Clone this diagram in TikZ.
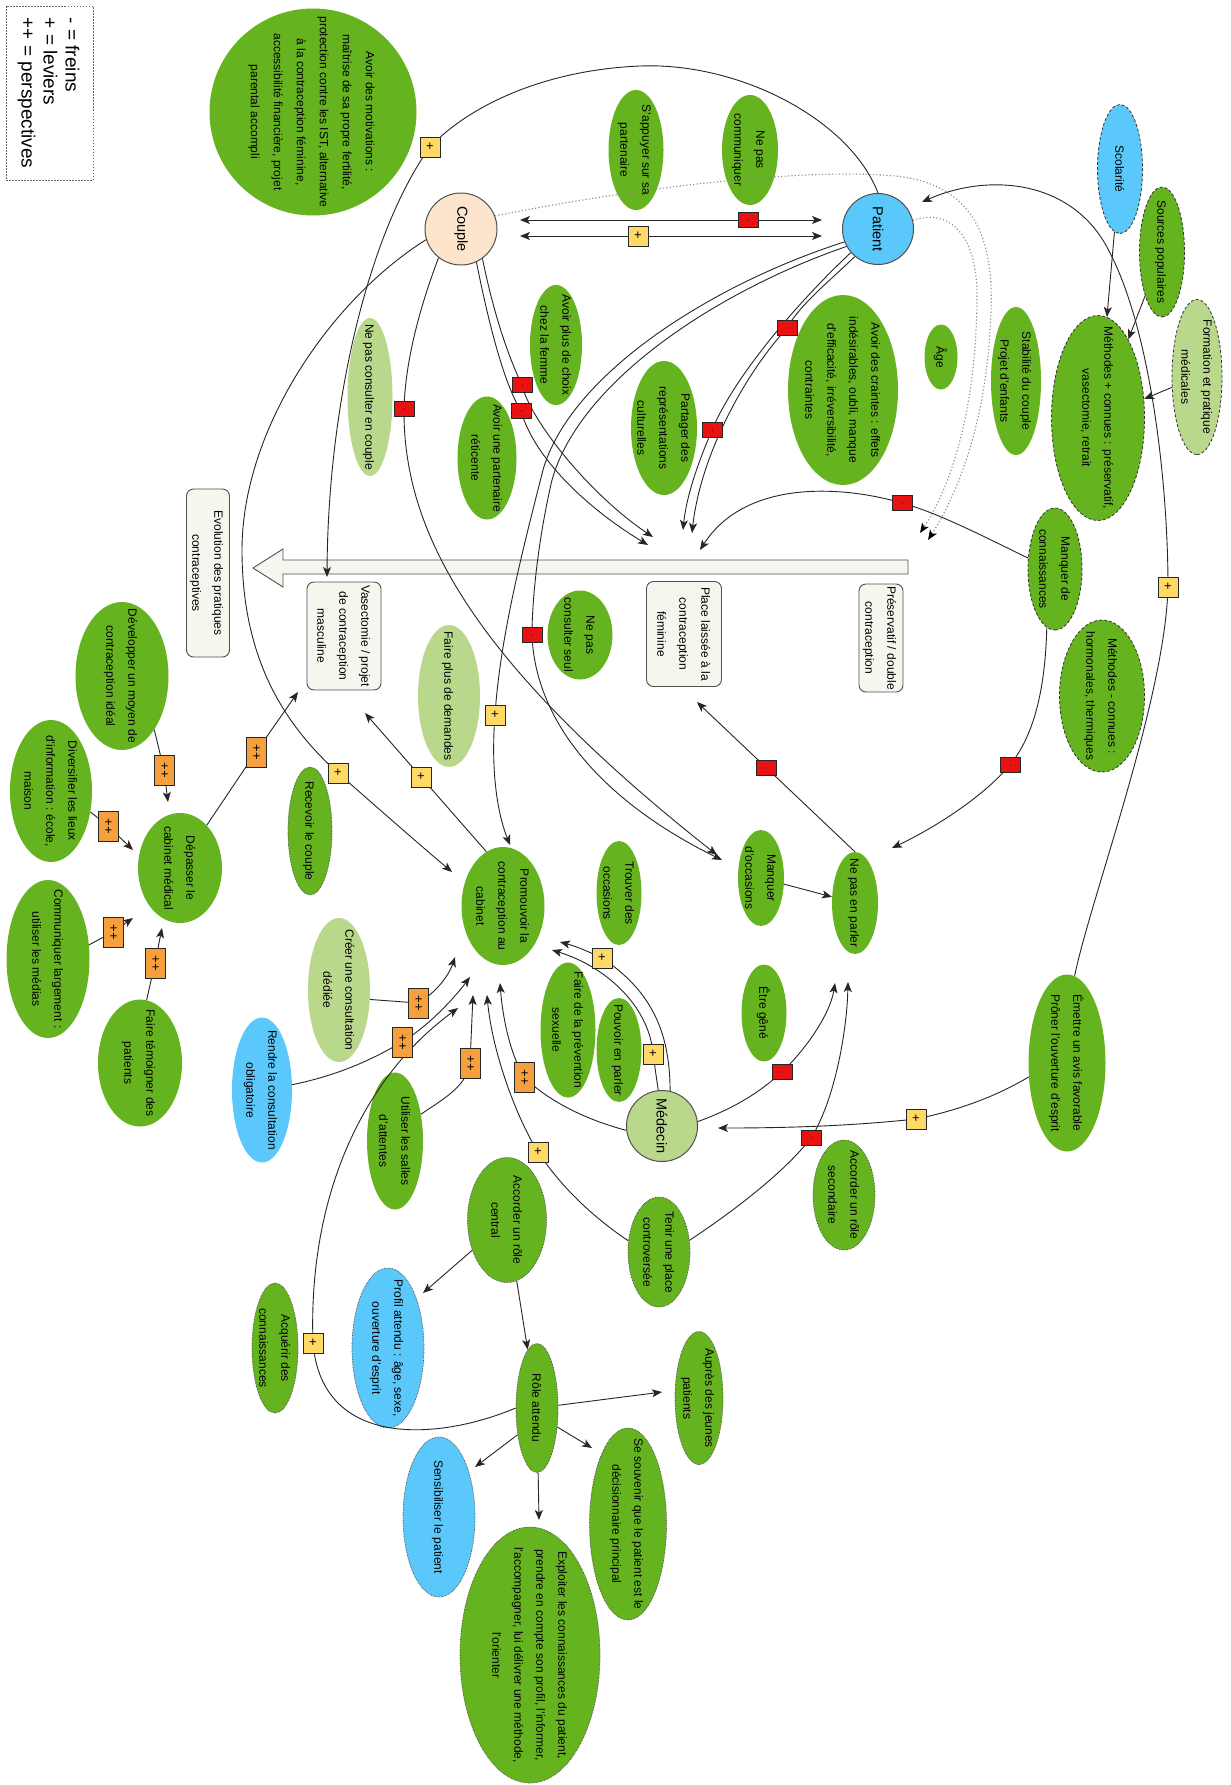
\documentclass[tikz,border=0pt]{standalone}
\usepackage{fontspec}
\setmainfont{Liberation Sans}
\usetikzlibrary{shapes.geometric,arrows.meta}
\pgfdeclarelayer{front}
\pgfsetlayers{main,front}
\definecolor{leaf}{RGB}{102,179,32}
\definecolor{pale}{RGB}{186,216,140}
\definecolor{sky}{RGB}{90,200,250}
\definecolor{peach}{RGB}{252,228,205}
\definecolor{gold}{RGB}{255,217,102}
\definecolor{amber}{RGB}{245,160,60}
\definecolor{alarm}{RGB}{232,18,18}
\definecolor{paper}{RGB}{246,245,238}
\definecolor{rim}{RGB}{80,80,80}
% centred multi-line text that does not widen its node
\newcommand{\ntxt}[1]{\smash{\makebox[0pt]{\raisebox{-0.26em}{\begin{tabular}{@{}c@{}}#1\end{tabular}}}}}

\begin{document}
\begin{tikzpicture}[x=1pt,y=-1pt,
  lbl/.style={font=\fontsize{12}{22}\selectfont},
  sz/.style 2 args={minimum height=#1, minimum width=#2},
  bub/.style={ellipse, rotate=-90, inner sep=0pt, fill=leaf, lbl},
  pale bub/.style={bub, fill=pale},
  sky bub/.style={bub, fill=sky},
  dashrim/.style={draw=black!80, dash pattern=on 3pt off 2pt, line width=0.8pt},
  dotrim/.style={draw=black!70, dash pattern=on 0.7pt off 0.9pt, line width=0.7pt},
  disc/.style={circle, rotate=-90, inner sep=0pt, draw=rim, line width=1pt, font=\fontsize{14.5}{16}\selectfont},
  card/.style={rectangle, rounded corners=7pt, rotate=-90, inner sep=0pt, fill=paper, draw=rim, line width=0.9pt, lbl},
  plusbox/.style={rectangle, draw=black!85, line width=0.8pt, fill=gold, minimum width=20pt, minimum height=20pt, inner sep=0pt, font=\fontsize{13}{13}\selectfont},
  dblbox/.style={rectangle, rotate=-90, draw=black!85, line width=0.8pt, fill=amber, minimum width=30pt, minimum height=20pt, inner sep=0pt, font=\fontsize{13}{13}\selectfont},
  minusbox/.style={rectangle, rotate=-90, draw=black!85, line width=0.7pt, fill=alarm, minimum width=15pt, minimum height=20pt, inner sep=0pt, font=\fontsize{6}{6}\selectfont},
  arr/.style={draw=black!85, line width=0.9pt, -{Stealth[length=10pt,width=8pt,inset=2.5pt]}},
  both/.style={draw=black!85, line width=0.9pt, {Stealth[length=10pt,width=8pt,inset=2.5pt]}-{Stealth[length=10pt,width=8pt,inset=2.5pt]}},
  faint/.style={draw=black!45, line width=1.1pt, dash pattern=on 1.2pt off 2.2pt, -{Stealth[length=10pt,width=8pt,inset=2.5pt,black]}},
]
\fill[white] (0,0) rectangle (1231,1785);
\useasboundingbox (0,0) rectangle (1231,1785);

% legend
\node[draw=black!60, dash pattern=on 1.5pt off 1.5pt, line width=0.6pt, minimum width=87pt, minimum height=174pt, inner sep=0pt] (legend) at (49.5,93) {};
\node[rotate=-90, align=left, inner sep=0pt, font=\fontsize{19}{22}\selectfont] (legendtext) at (48.5,93) {- = freins\\+ = leviers\\++ = perspectives};

% actors
\node[disc, fill=peach, minimum size=72pt] (couple) at (461,229) {Couple};
\node[disc, fill=sky, minimum size=71pt] (patient) at (878,229) {Patient};
\node[disc, fill=pale, minimum size=71pt] (medecin) at (662,1126) {Médecin};

% themes
\node[bub, sz={207pt}{207pt}, font=\fontsize{12}{23}\selectfont] (motiv) at (313,112) {\ntxt{Avoir des motivations :\\maîtrise de sa propre fertilité,\\protection contre les IST, alternative\\à la contraception féminine,\\accessibilité financière, projet\\parental accompli}};
\node[bub, sz={55pt}{120pt}] (appui) at (636,150) {\ntxt{S'appuyer sur sa\\partenaire}};
\node[bub, sz={56pt}{110pt}] (mutisme) at (750,150) {\ntxt{Ne pas\\communiquer}};
\node[bub, sz={52pt}{120pt}] (choix) at (556,345) {\ntxt{Avoir plus de choix\\chez la femme}};
\node[bub, sz={59pt}{123pt}] (reticente) at (487,458) {\ntxt{Avoir une partenaire\\réticente}};
\node[pale bub, sz={45pt}{158pt}] (solocouple) at (370,397) {\ntxt{Ne pas consulter en couple}};
\node[bub, sz={66pt}{134pt}] (culture) at (664,428) {\ntxt{Partager des\\représentations\\culturelles}};
\node[bub, sz={110pt}{190pt}] (craintes) at (843,390) {\ntxt{Avoir des craintes : effets\\indésirables, oubli, manque\\d'efficacité, irréversibilité,\\contraintes}};
\node[bub, sz={33pt}{65pt}] (age) at (941,357) {\ntxt{Âge}};
\node[bub, sz={50pt}{148pt}] (stabilite) at (1016,381) {\ntxt{Stabilité du couple\\Projet d'enfants}};
\node[sky bub, dashrim, sz={45pt}{129pt}] (scolarite) at (1120,169) {\ntxt{Scolarité}};
\node[bub, dashrim, sz={45pt}{130pt}] (sources) at (1162,252) {\ntxt{Sources populaires}};
\node[pale bub, dashrim, sz={50pt}{155pt}] (formation) at (1197,377) {\ntxt{Formation et pratique\\médicales}};
\node[bub, dashrim, sz={93pt}{205pt}] (methplus) at (1098,418) {\ntxt{Méthodes + connues : préservatif,\\vasectomie, retrait}};
\node[bub, dashrim, sz={54pt}{122pt}] (manqconn) at (1055,569) {\ntxt{Manquer de\\connaissances}};
\node[bub, dashrim, sz={85pt}{152pt}] (methmoins) at (1102,696) {\ntxt{Méthodes - connues :\\hormonales, thermiques}};
\node[bub, sz={65pt}{89pt}] (seul) at (580,635) {\ntxt{Ne pas\\consulter seul}};
\node[pale bub, sz={62pt}{142pt}] (demandes) at (449,696) {\ntxt{Faire plus de demandes}};
\node[bub, sz={93pt}{148pt}] (ideal) at (122,676) {\ntxt{Développer un moyen de\\contraception idéal}};
\node[bub, sz={82pt}{142pt}] (lieux) at (51,791) {\ntxt{Diversifier les lieux\\d'information : école,\\maison}};
\node[bub, sz={84pt}{110pt}] (depasser) at (180,868) {\ntxt{Dépasser le\\cabinet médical}};
\node[bub, dotrim, sz={44pt}{128pt}] (recevoir) at (310,831) {\ntxt{Recevoir le couple}};
\node[bub, sz={83pt}{158pt}] (medias) at (48,959) {\ntxt{Communiquer largement :\\utiliser les médias}};
\node[bub, sz={84pt}{127pt}] (temoins) at (140,1063) {\ntxt{Faire témoigner des\\patients}};
\node[pale bub, sz={62pt}{144pt}] (dediee) at (339,990) {\ntxt{Créer une consultation\\dédiée}};
\node[sky bub, sz={60pt}{145pt}] (obligatoire) at (262,1090) {\ntxt{Rendre la consultation\\obligatoire}};
\node[bub, sz={56pt}{137pt}] (salles) at (395,1141) {\ntxt{Utiliser les salles\\d'attentes}};
\node[bub, sz={83pt}{118pt}] (promouvoir) at (503,906) {\ntxt{Promouvoir la\\contraception au\\cabinet}};
\node[bub, sz={45pt}{104pt}] (occasions) at (619,893) {\ntxt{Trouver des\\occasions}};
\node[bub, sz={46pt}{96pt}] (manqocc) at (761,878) {\ntxt{Manquer\\d'occasions}};
\node[bub, sz={46pt}{102pt}] (silence) at (855,903) {\ntxt{Ne pas en parler}};
\node[bub, sz={55pt}{135pt}] (prevention) at (568,1030) {\ntxt{Faire de la prévention\\sexuelle}};
\node[bub, sz={45pt}{104pt}] (parler) at (619,1050) {\ntxt{Pouvoir en parler}};
\node[bub, sz={45pt}{97pt}] (gene) at (764,1013) {\ntxt{Être gêné}};
\node[bub, dotrim, sz={79pt}{125pt}] (central) at (507,1220) {\ntxt{Accorder un rôle\\central}};
\node[bub, dotrim, sz={62pt}{110pt}] (controverse) at (659,1252) {\ntxt{Tenir une place\\controversée}};
\node[bub, dotrim, sz={62pt}{110pt}] (secondaire) at (844,1195) {\ntxt{Accorder un rôle\\secondaire}};
\node[bub, sz={77pt}{177pt}] (avis) at (1067,1063) {\ntxt{Émettre un avis favorable\\Prôner l'ouverture d'esprit}};
\node[sky bub, dotrim, sz={72pt}{160pt}] (profil) at (388,1348) {\ntxt{Profil attendu : âge, sexe,\\ouverture d'esprit}};
\node[bub, dotrim, sz={46pt}{130pt}] (acquerir) at (275,1348) {\ntxt{Acquérir des\\connaissances}};
\node[bub, dotrim, sz={42pt}{129pt}] (role) at (537,1408) {\ntxt{Rôle attendu}};
\node[bub, dotrim, sz={48pt}{133pt}] (jeunes) at (699,1398) {\ntxt{Auprès des jeunes\\patients}};
\node[bub, dotrim, sz={77pt}{192pt}] (souvenir) at (628,1524) {\ntxt{Se souvenir que le patient est le\\décisionnaire principal}};
\node[sky bub, dotrim, sz={72pt}{160pt}] (sensib) at (439,1517) {\ntxt{Sensibiliser le patient}};
\node[bub, dotrim, sz={140pt}{256pt}] (exploiter) at (530,1655) {\ntxt{Exploiter les connaissances du patient,\\prendre en compte son profil, l'informer,\\l'accompagner, lui délivrer une méthode,\\l'orienter}};

% outcomes
\node[card, sz={43pt}{168pt}] (evolution) at (208,573) {\ntxt{Evolution des pratiques\\contraceptives}};
\node[card, sz={74pt}{108pt}] (vasect) at (344,636) {\ntxt{Vasectomie / projet\\de contraception\\masculine}};
\node[card, sz={75pt}{105pt}] (feminine) at (684,634) {\ntxt{Place laissée à la\\contraception\\féminine}};
\node[card, sz={44pt}{108pt}] (preserv) at (881,638) {\ntxt{Préservatif / double\\contraception}};

% evolution block arrow
\draw[fill=paper, draw=rim, line width=0.9pt, line join=miter] (908,560) -- (283,560) -- (283,549) -- (253,568) -- (283,587) -- (283,574) -- (908,574) -- cycle;

% link markers
\begin{pgfonlayer}{front}
\node[plusbox] (p1) at (430,147) {+};
\node[plusbox] (p2) at (421,777) {+};
\node[plusbox] (p3) at (338,773) {+};
\node[plusbox] (p4) at (638,236) {+};
\node[plusbox] (p5) at (313,1343) {+};
\node[plusbox] (p6) at (538,1152) {+};
\node[plusbox] (p7) at (602,958) {+};
\node[plusbox] (p8) at (653,1054) {+};
\node[plusbox] (p9) at (916,1119) {+};
\node[plusbox] (p10) at (1168,587) {+};
\node[plusbox] (p11) at (495,715) {+};
\node[minusbox] (m1) at (748,220) {-};
\node[minusbox] (m2) at (522,385) {-};
\node[minusbox] (m3) at (521,411) {-};
\node[minusbox] (m4) at (787,328) {-};
\node[minusbox] (m5) at (712,430) {-};
\node[minusbox] (m6) at (404,409) {-};
\node[minusbox] (m7) at (532,635) {-};
\node[minusbox] (m8) at (902,503) {-};
\node[minusbox] (m9) at (1010,765) {-};
\node[minusbox] (m10) at (766,768) {-};
\node[minusbox] (m11) at (782,1072) {-};
\node[minusbox] (m12) at (811,1138) {-};
\node[dblbox] (d1) at (256,752) {++};
\node[dblbox] (d2) at (164,770) {++};
\node[dblbox] (d3) at (108,826) {++};
\node[dblbox] (d4) at (113,932) {++};
\node[dblbox] (d5) at (155,963) {++};
\node[dblbox] (d6) at (418,1003) {++};
\node[dblbox] (d7) at (402,1042) {++};
\node[dblbox] (d8) at (470,1063) {++};
\node[dblbox] (d9) at (524,1077) {++};
\end{pgfonlayer}

% arrow ends
\coordinate (tipVas) at (327,577);
\coordinate (tipVas2) at (365,713);
\coordinate (tipVas3) at (298,692);
\coordinate (tipDep1) at (168,802);
\coordinate (tipDep2) at (133,850);
\coordinate (tipDep3) at (133,918);
\coordinate (tipDep4) at (162,928);
\coordinate (tipPr0) at (452,872);
\coordinate (tipPr1) at (455,957);
\coordinate (tipPr2) at (470,977);
\coordinate (tipPr3) at (458,1008);
\coordinate (tipPr4) at (473,995);
\coordinate (tipPr5) at (487,995);
\coordinate (tipPr6) at (500,983);
\coordinate (tipPr7) at (560,942);
\coordinate (tipPr8) at (552,950);
\coordinate (tipPr9) at (510,845);
\coordinate (tipNP1) at (835,983);
\coordinate (tipNP2) at (848,982);
\coordinate (tipNP3) at (892,848);
\coordinate (tipMed) at (718,1128);
\coordinate (tipPat) at (922,202);
\coordinate (tipPl1) at (648,545);
\coordinate (tipPl2) at (653,537);
\coordinate (tipPl3) at (683,530);
\coordinate (tipPl4) at (692,533);
\coordinate (tipPl5) at (700,550);
\coordinate (tipPl6) at (697,702);
\coordinate (tipMO1) at (717,855);
\coordinate (tipMO2) at (722,860);
\coordinate (tipPs1) at (928,540);
\coordinate (tipPs2) at (920,533);
\coordinate (tipProf) at (423,1293);
\coordinate (tipSouv) at (592,1448);
\coordinate (tipSens) at (475,1467);
\coordinate (tipJeu) at (662,1392);
\coordinate (tipExp) at (539,1520);

% couple <-> patient
\draw[both, shorten <=59pt, shorten >=56pt] ([yshift=9pt]couple.center) -- ([yshift=9pt]patient.center);
\draw[both, shorten <=59pt, shorten >=56pt] ([yshift=-7pt]couple.center) -- ([yshift=-7pt]patient.center);

% dotted influences towards the condom
\draw[faint] (couple.111) .. controls (650,185) and (800,170) .. (880,175) .. controls (990,178) and (995,260) .. (990,330) .. controls (985,420) and (960,490) .. (tipPs1);
\draw[faint] (patient.104) .. controls (950,208) and (978,235) .. (977,300) .. controls (976,400) and (955,480) .. (tipPs2);

% from the patient and the couple
\draw[arr] (patient.180) .. controls (850,120) and (740,62) .. (640,66) .. controls (545,70) and (470,105) .. (p1.center) .. controls (370,230) and (328,400) .. (tipVas);
\draw[arr] (couple.287) .. controls (330,300) and (242,430) .. (242,550) .. controls (242,660) and (285,725) .. (p3.center) .. controls (380,810) and (420,845) .. (tipPr0);
\draw[arr] (couple.36) .. controls (495,320) and (510,360) .. (m2.center) .. controls (530,420) and (590,495) .. (tipPl2);
\draw[arr] (couple.25) .. controls (490,330) and (505,385) .. (m3.center) .. controls (535,460) and (590,510) .. (tipPl1);
\draw[arr] (couple.322) .. controls (415,320) and (405,370) .. (m6.center) .. controls (403,530) and (470,660) .. (tipMO1);
\draw[arr] (patient.311) .. controls (800,300) and (735,375) .. (m5.center) .. controls (695,470) and (686,500) .. (tipPl3);
\draw[arr] (patient.320) .. controls (825,285) and (800,305) .. (m4.center) .. controls (740,380) and (700,460) .. (tipPl4);
\draw[arr] (patient.299) .. controls (720,290) and (580,380) .. (552,480) .. controls (538,540) and (532,600) .. (m7.center) .. controls (535,720) and (600,800) .. (tipMO2);
\draw[arr] (patient.291) .. controls (710,285) and (570,375) .. (543,470) .. controls (520,560) and (500,640) .. (p11.center) .. controls (490,780) and (500,820) .. (tipPr9);

% knowledge
\draw[arr] (scolarite) -- (methplus);
\draw[arr] (sources) -- (methplus);
\draw[arr] (formation) -- (methplus);
\draw[arr] (manqconn.352) .. controls (1045,700) and (1030,740) .. (m9.center) .. controls (980,800) and (930,830) .. (tipNP3);
\draw[arr] (manqconn.248) .. controls (975,532) and (935,512) .. (m8.center) .. controls (840,485) and (745,480) .. (tipPl5);
\draw[arr] (silence.west) -- (tipPl6);
\draw[arr] (manqocc) -- (silence);

% practice
\draw[arr] (promouvoir.197) -- (p2.center) -- (tipVas2);
\draw[arr] (depasser.148) -- (d1.center) -- (tipVas3);
\draw[arr] (ideal.31) -- (d2.center) -- (tipDep1);
\draw[arr] (lieux.62) -- (d3.center) -- (tipDep2);
\draw[arr] (medias.109) -- (d4.center) -- (tipDep3);
\draw[arr] (temoins.174) -- (d5.center) -- (tipDep4);
\draw[arr] (dediee.73) -- (d6.center) .. controls (440,990) and (450,972) .. (tipPr1);
\draw[arr] (obligatoire.100) .. controls (340,1075) and (375,1058) .. (d7.center) .. controls (430,1025) and (455,997) .. (tipPr2);
\draw[arr] (role.270) .. controls (440,1440) and (322,1450) .. (p5.center) .. controls (308,1200) and (360,1080) .. (tipPr3);
\draw[arr] (salles.136) .. controls (450,1095) and (466,1085) .. (d8.center) -- (tipPr4);
\draw[arr] (controverse.250) .. controls (590,1215) and (560,1185) .. (p6.center) .. controls (515,1115) and (492,1050) .. (tipPr5);
\draw[arr] (medecin.277) .. controls (580,1118) and (545,1098) .. (d9.center) .. controls (508,1050) and (502,1010) .. (tipPr6);
\draw[arr] (medecin.167) .. controls (670,1030) and (650,990) .. (p7.center) .. controls (585,950) and (575,946) .. (tipPr7);
\draw[arr] (medecin.186) -- (p8.center) .. controls (650,1010) and (610,968) .. (tipPr8);
\draw[arr] (medecin.97) .. controls (735,1108) and (760,1092) .. (m11.center) .. controls (805,1050) and (830,1015) .. (tipNP1);
\draw[arr] (controverse.111) .. controls (750,1200) and (790,1165) .. (m12.center) .. controls (835,1100) and (847,1030) .. (tipNP2);
\draw[arr] (avis.290) .. controls (990,1100) and (950,1112) .. (p9.center) .. controls (860,1125) and (800,1128) .. (tipMed);
\draw[arr] (avis.175) .. controls (1090,900) and (1165,700) .. (p10.center) .. controls (1168,480) and (1150,330) .. (1110,253) .. controls (1075,180) and (990,172) .. (tipPat);

% expected role
\draw[arr] (central) -- (tipProf);
\draw[arr] (central) -- (role);
\draw[arr] (role) -- (tipJeu);
\draw[arr] (role.47) -- (tipSouv);
\draw[arr] (role.324) -- (tipSens);
\draw[arr] (role) -- (tipExp);
\end{tikzpicture}
\end{document}
